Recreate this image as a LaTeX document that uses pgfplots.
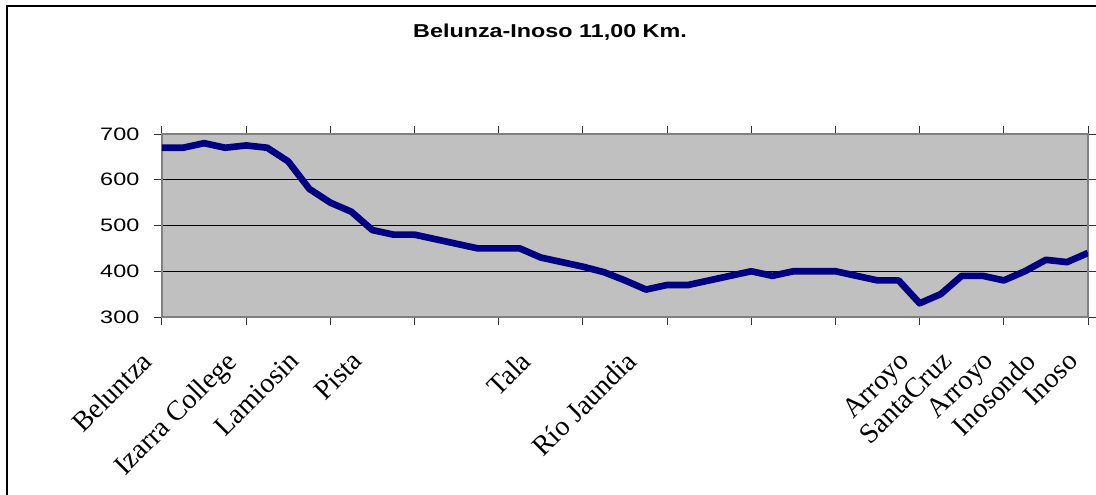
\documentclass[border=0pt]{standalone}
\usepackage{fontspec}
\setmainfont{Liberation Serif}
\newfontfamily\arialw[FakeStretch=1.25]{Liberation Sans}
\newfontfamily\arialy[FakeStretch=1.3]{Liberation Sans}
\usepackage{pgfplots}
\pgfplotsset{compat=1.18}
\definecolor{navyline}{HTML}{000080}
\definecolor{plotbg}{HTML}{C0C0C0}
\definecolor{framegray}{HTML}{808080}
\begin{document}
\begin{tikzpicture}
\path[use as bounding box] (0,0) rectangle (822pt,-370.5pt);
\draw[line width=1.5pt] (5.25pt,-375pt) -- (5.25pt,-4.5pt) -- (825pt,-4.5pt);
\node[font=\arialw\bfseries\fontsize{14}{16}\selectfont, anchor=base] at (412.5pt,-28.3pt) {Belunza-Inoso 11,00 Km.};
\begin{axis}[
  at={(121.5pt,-237.75pt)}, anchor=south west,
  scale only axis, width=694.5pt, height=137.25pt,
  xmin=0, xmax=44, ymin=300, ymax=700,
  axis background/.style={fill=plotbg},
  axis line style={draw=framegray, line width=1.5pt},
  ytick={300,400,...,700},
  ymajorgrids, grid style={black, line width=0.75pt},
  xtick={0,4,...,44}, xticklabels={},
  tick align=outside, major tick length=6pt,
  tick style={black!80, line width=0.75pt},
  yticklabel style={font=\arialy\fontsize{13.5}{15}\selectfont, xshift=-7.5pt},
  /pgf/number format/assume math mode=true,
  extra x ticks={0,4,7,10,18,23,36,38,40,42,44},
  extra x tick labels={Beluntza, Izarra College, Lamiosin, Pista, Tala, Río Jaundia, Arroyo, SantaCruz, Arroyo, Inosondo, Inoso},
  extra x tick style={major tick length=0pt, grid=none,
    xticklabel style={xshift=-16.5pt, yshift=-19.5pt, rotate=45, anchor=north east, font=\fontsize{21}{22}\selectfont}},
]
\addplot[navyline, line width=5pt, line join=round] coordinates {
(0,670) (1,670) (2,680) (3,670) (4,675) (5,670) (6,640) (7,580) (8,550) (9,530)
(10,490) (11,480) (12,480) (13,470) (14,460) (15,450) (16,450) (17,450) (18,430) (19,420)
(20,410) (21,398) (22,380) (23,360) (24,370) (25,370) (26,380) (27,390) (28,400) (29,390)
(30,400) (31,400) (32,400) (33,390) (34,380) (35,380) (36,330) (37,350) (38,390) (39,390)
(40,380) (41,400) (42,425) (43,420) (44,440)
};
\end{axis}
\end{tikzpicture}
\end{document}
